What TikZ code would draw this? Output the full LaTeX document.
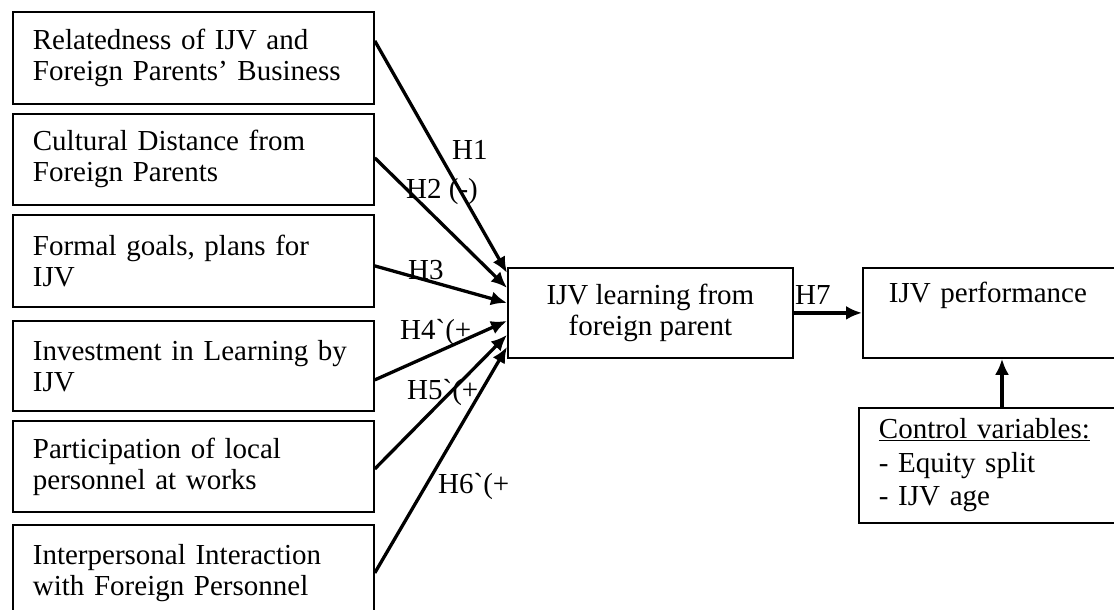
\documentclass[tikz,border=0pt]{standalone}
\usepackage{fontspec}
\setmainfont{Liberation Serif}
\usetikzlibrary{arrows.meta}
\begin{document}
\begin{tikzpicture}[x=1pt,y=-1pt,
  txt/.style={font=\fontsize{29}{31}\selectfont},
  box/.style={draw, line width=1.8pt, rectangle, txt, inner ysep=0pt},
  leftbox/.style={box, anchor=north west, inner xsep=20pt, text width=321pt, align=left, minimum height=#1},
  lbl/.style={txt, inner sep=0pt, anchor=west},
  arr/.style={line width=3.3pt, -{Latex[length=16pt,width=14pt]}}
]
\useasboundingbox (0,0) rectangle (1114,610);
\clip (0,0) rectangle (1114,610);

% left boxes
\node[leftbox=92pt] (b1) at (12,11) {Relatedness of IJV and\\Foreign Parents’ Business};
\node[leftbox=91pt] (b2) at (12,113) {Cultural Distance from\\Foreign Parents};
\node[leftbox=92pt] (b3) at (12,214) {Formal goals, plans for\\IJV};
\node[leftbox=90pt] (b4) at (12,320) {Investment in Learning by\\IJV};
\node[leftbox=91pt] (b5) at (12,420) {Participation of local\\personnel at works};
\node[leftbox=96pt] (b6) at (12,524) {Interpersonal Interaction\\with Foreign Personnel};

% central box
\node[box, anchor=north west, minimum width=285pt, minimum height=90pt, align=center] (c) at (507,267) {IJV learning from\\foreign parent};

% performance box
\node[box, anchor=north west, minimum width=258pt, minimum height=90pt, inner xsep=26pt, text width=206pt, align=left] (perf) at (862,267) {IJV performance\\\strut};

% control box
\node[box, anchor=north west, minimum height=115pt, inner xsep=20pt, text width=240pt, align=left, font=\fontsize{29}{33.5}\selectfont] (ctrl) at (858,407) {\underline{Control variables:}\\- Equity split\\- IJV age};

% arrows into central box
\draw[arr] ([yshift=17pt]b1.east) -- ([yshift=40pt]c.west);
\draw[arr] ([yshift=1.5pt]b2.east) -- ([yshift=25pt]c.west);
\draw[arr] ([yshift=-5pt]b3.east) -- ([yshift=10pt]c.west);
\draw[arr] ([yshift=-14pt]b4.east) -- ([yshift=-8pt]c.west);
\draw[arr] ([yshift=-2.5pt]b5.east) -- ([yshift=-22pt]c.west);
\draw[arr] ([yshift=0pt]b6.east) -- ([yshift=-34pt]c.west);

\draw[arr] (c.east) -- (perf.west);
\coordinate (cx) at (1002,0);
\draw[arr] (cx |- ctrl.north) -- (cx |- perf.south);

% labels
\node[lbl] (h1) at (452,150) {H1};
\node[lbl] (h2) at (406,192) {H2 (-)};
\node[lbl] (h3) at (408,270) {H3};
\node[lbl] (h4) at (400,333) {H4\textasciigrave(+};
\node[lbl] (h5) at (407,393) {H5\textasciigrave(+};
\node[lbl] (h6) at (438,487) {H6\textasciigrave(+};
\node[lbl] (h7) at (795,295) {H7};
\end{tikzpicture}
\end{document}
